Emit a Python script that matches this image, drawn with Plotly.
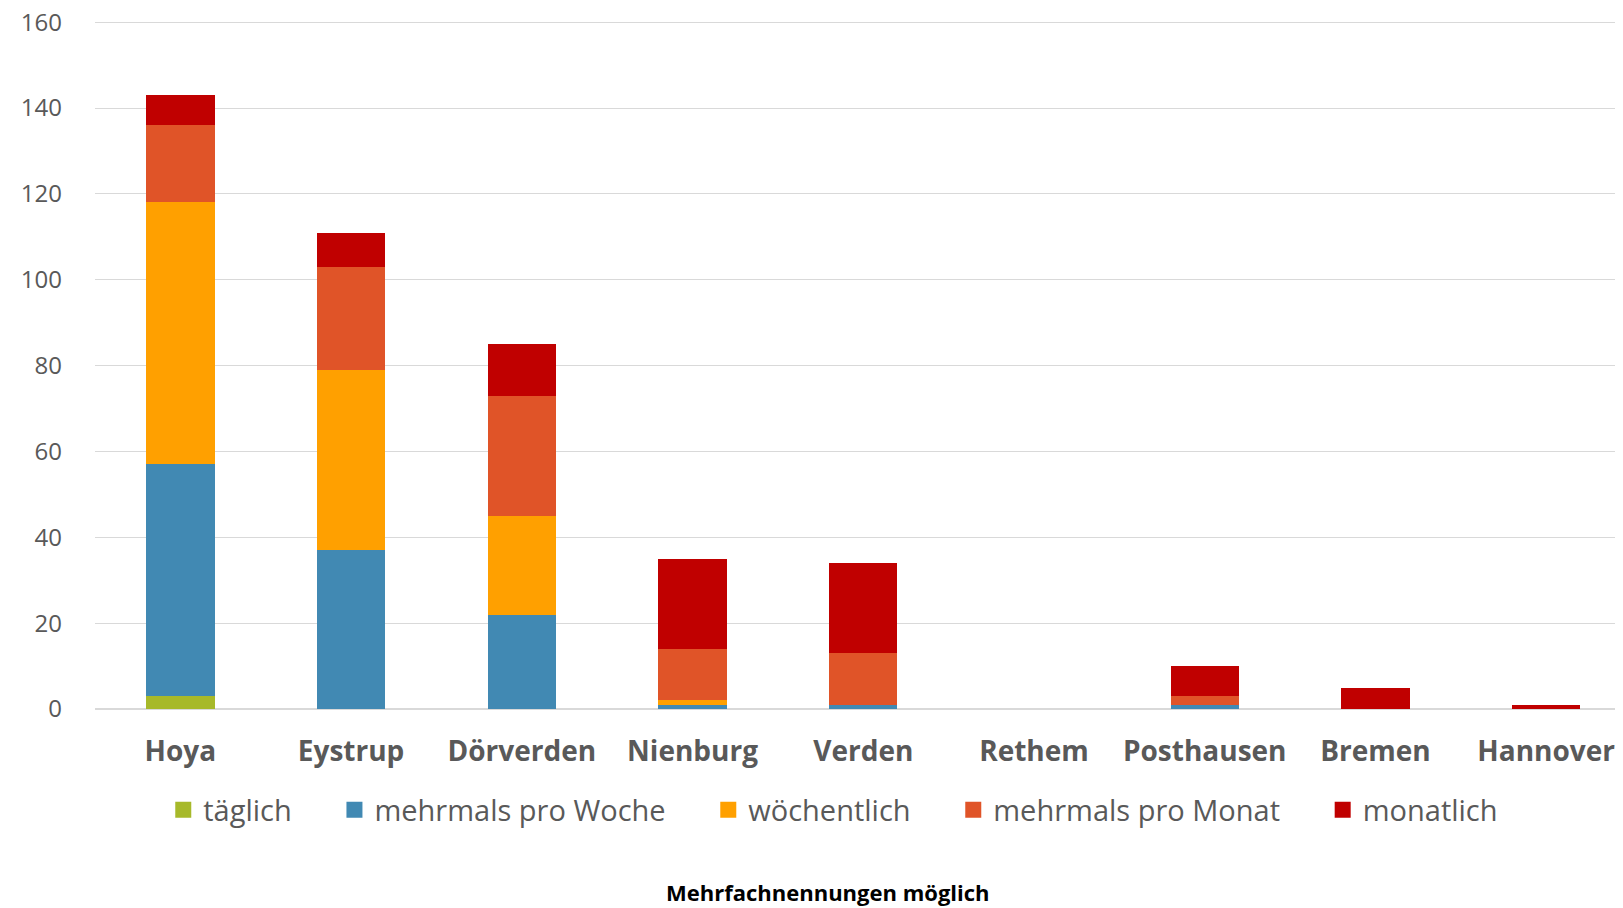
import plotly.graph_objects as go

categories = ["Hoya", "Eystrup", "Dörverden", "Nienburg", "Verden", "Rethem", "Posthausen", "Bremen", "Hannover"]
taeglich = [3, 0, 0, 0, 0, 0, 0, 0, 0]
mehrmals_woche = [54, 37, 22, 1, 1, 0, 1, 0, 0]
woechentlich = [61, 42, 23, 1, 0, 0, 0, 0, 0]
mehrmals_monat = [18, 24, 28, 12, 12, 0, 2, 0, 0]
monatlich = [7, 8, 12, 21, 21, 0, 7, 5, 1]

series = [
    ("täglich", taeglich, "#A7B92A"),
    ("mehrmals pro Woche", mehrmals_woche, "#4189B3"),
    ("wöchentlich", woechentlich, "#FFA000"),
    ("mehrmals pro Monat", mehrmals_monat, "#E05428"),
    ("monatlich", monatlich, "#C00000"),
]

pad = "\u00a0" * 5
fig = go.Figure()
for i, (name, vals, col) in enumerate(series):
    fig.add_trace(go.Bar(
        x=categories, y=vals, name=name, legendgroup=name, showlegend=False,
        marker=dict(color=col, line=dict(width=0)),
    ))
for i, (name, vals, col) in enumerate(series):
    fig.add_trace(go.Scatter(
        x=[None], y=[None], mode="markers", legendgroup=name,
        name=name + (pad if i < len(series) - 1 else ""),
        marker=dict(symbol="square", size=16, color=col),
    ))

font_family = "Open Sans"
fig.update_layout(
    barmode="stack",
    bargap=0.6,
    width=1615, height=900,
    margin=dict(l=87, r=0, t=12, b=199),
    plot_bgcolor="white",
    paper_bgcolor="white",
    font=dict(family=font_family, color="#595959"),
    xaxis=dict(
        range=[-0.5, 8.45], automargin=False,
        tickfont=dict(size=28, color="#595959", family=font_family, weight="bold"),
        showgrid=False, showline=False, ticks="", ticklabelstandoff=23,
    ),
    yaxis=dict(
        range=[0, 160.5], tickvals=[0, 20, 40, 60, 80, 100, 120, 140, 160],
        automargin=False,
        gridcolor="#D9D9D9", gridwidth=1.3,
        zeroline=True, zerolinecolor="#D9D9D9", zerolinewidth=2,
        tickfont=dict(size=24, color="#595959", family=font_family),
        ticks="", ticklabelstandoff=32, ticklabeloverflow="allow",
    ),
    legend=dict(
        orientation="h", xref="container", x=0.511, xanchor="center",
        yref="container", y=0.109, yanchor="middle",
        font=dict(size=29, color="#595959", family=font_family),
        traceorder="normal",
        itemwidth=30,
    ),
    annotations=[dict(
        text="<b>Mehrfachnennungen möglich</b>", xref="paper", yref="paper",
        x=0.48, y=-0.265, xanchor="center", yanchor="middle", showarrow=False,
        font=dict(size=22, color="#000000", family=font_family),
    )],
)

fig.write_html("out.html")
